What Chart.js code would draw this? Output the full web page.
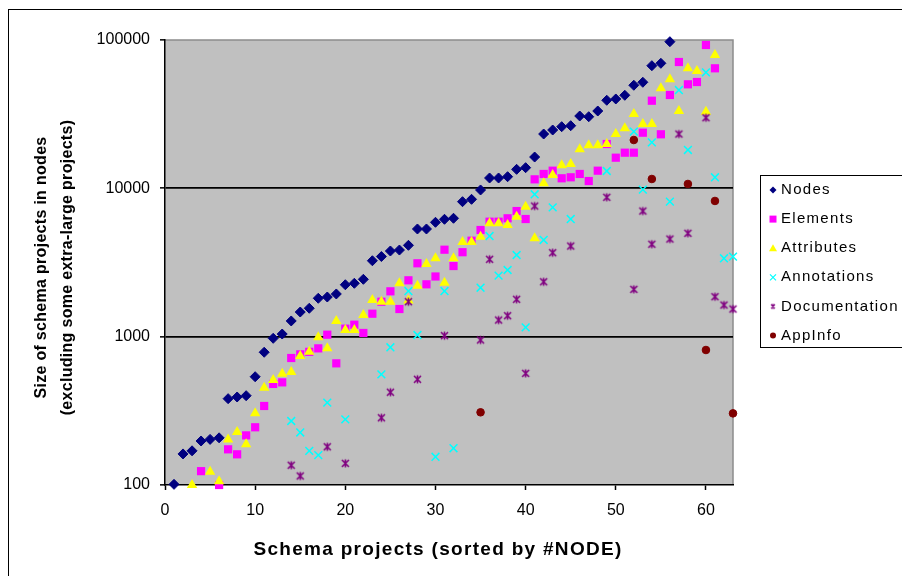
<!DOCTYPE html>
<html>
<head>
<meta charset="utf-8">
<script src="https://cdn.jsdelivr.net/npm/chart.js@4/dist/chart.umd.min.js"></script>
<style>
  html, body { margin: 0; padding: 0; background: #fff; }
  #wrap { width: 902px; height: 576px; }
</style>
</head>
<body>
<div id="wrap"><canvas id="c" width="902" height="576"></canvas></div>
<script>
// Schema projects, sorted by node count (project number = position + 1)
const nodes = [101,162,170,198,203,208,382,392,400,537,
  785,975,1042,1276,1466,1554,1815,1851,1940,2239,
  2290,2436,3250,3470,3780,3837,4130,5320,5320,5902,
  6184,6283,8128,8433,9747,11740,11740,11980,13430,13780,
  16260,23240,24730,26040,26440,30730,30400,33210,39230,40030,
  42390,49530,51880,67100,69650,97400,null,null,null,null,
  null,null,null];
const elements = [null,null,null,124,null,100,174,161,216,245,
  341,480,492,718,760,790,834,1031,661,1132,
  1204,1059,1428,1720,2022,1536,2399,3124,2254,2545,
  3857,2994,3710,4436,5236,5957,5957,6280,7030,6210,
  11500,12500,13150,11690,11870,12500,11200,13150,19900,16090,
  17390,17390,23720,38960,23140,42580,71060,50260,52100,92530,
  64450,null,null];
const attributes = [null,null,100,null,123,106,203,228,188,304,
  453,510,563,578,741,792,990,834,1276,1109,
  1109,1400,1767,1720,1720,2290,1750,2206,3090,3376,
  2312,3376,4345,4345,4720,5808,5808,5660,6440,7520,
  4600,10810,12300,14300,14580,18330,19500,19500,19900,23240,
  25400,31700,27140,27140,47250,54330,33220,64450,61800,32880,
  79230,null,null];
const annotations = [null,null,null,null,null,null,null,null,null,null,
  null,null,null,270,226,170,159,359,null,277,
  null,null,null,557,848,null,2031,1026,null,155,
  2031,177,null,null,2138,4770,2577,2815,3553,1156,
  9120,4487,7450,null,6210,null,null,null,13090,null,
  null,24100,9800,20430,null,8128,46000,18140,null,60570,
  11870,3376,3460];
const documentation = [null,null,null,null,null,null,null,null,null,null,
  null,null,null,136,115,null,null,181,null,140,
  null,null,null,284,422,null,1720,516,null,null,
  1016,null,null,null,950,3324,1295,1384,1786,566,
  7600,2344,3680,null,4083,null,null,null,8700,null,
  null,2085,7030,4198,null,4550,23240,4977,null,29940,
  1860,1634,1536];
const appInfo = [null,null,null,null,null,null,null,null,null,null,
  null,null,null,null,null,null,null,null,null,null,
  null,null,null,null,null,null,null,null,null,null,
  null,null,null,null,309,null,null,null,null,null,
  null,null,null,null,null,null,null,null,null,null,
  null,21170,null,11560,null,null,null,10700,null,813,
  8220,null,304];

const xTicks = [0, 10, 20, 30, 40, 50, 60];
const yTicks = [100, 1000, 10000, 100000];

const FONT = "'Liberation Sans', Arial, Helvetica, sans-serif";
Chart.defaults.font.family = FONT;
Chart.defaults.color = '#000';

// Excel-style "star" marker: an X with a vertical bar
function makeStar(size, color, lw) {
  const c = document.createElement('canvas');
  c.width = size; c.height = size;
  const g = c.getContext('2d');
  const m = 2, e = size - 2, mid = size / 2;
  g.strokeStyle = color; g.lineWidth = lw; g.lineCap = 'butt';
  g.beginPath();
  g.moveTo(m, m); g.lineTo(e, e);
  g.moveTo(e, m); g.lineTo(m, e);
  g.moveTo(mid, m - 0.5); g.lineTo(mid, e + 0.5);
  g.stroke();
  return c;
}
const starMarker = makeStar(11, '#800080', 1.6);
const starLegend = makeStar(8, '#800080', 1.3);

const seriesDefs = [
  { label: 'Nodes',         values: nodes,         color: '#000080', style: 'rectRot',  radius: 5,   bw: 1 },
  { label: 'Elements',      values: elements,      color: '#FF00FF', style: 'rect',     radius: 5.8, bw: 0 },
  { label: 'Attributes',    values: attributes,    color: '#FFFF00', style: 'triangle', radius: 6,   bw: 0 },
  { label: 'Annotations',   values: annotations,   color: '#00FFFF', style: 'crossRot', radius: 5.5, bw: 1.5 },
  { label: 'Documentation', values: documentation, color: '#800080', style: starMarker, radius: 5,   bw: 1 },
  { label: 'AppInfo',       values: appInfo,       color: '#800000', style: 'circle',   radius: 3.8, bw: 1 }
];

function toPoints(values) {
  const pts = [];
  values.forEach((v, i) => { if (v != null) pts.push({ x: i + 1, y: v }); });
  return pts;
}

const datasets = seriesDefs.map((s, i) => ({
  label: s.label,
  data: toPoints(s.values),
  showLine: false,
  pointStyle: s.style,
  pointRadius: s.radius,
  pointHoverRadius: s.radius,
  pointBackgroundColor: s.color,
  pointBorderColor: s.color,
  pointBorderWidth: s.bw,
  backgroundColor: s.color,
  borderColor: s.color,
  clip: false,
  order: seriesDefs.length - i
}));

// Gray plot area, outer frame
const backdrop = {
  id: 'backdrop',
  beforeDraw(chart) {
    const { ctx, chartArea: a } = chart;
    ctx.save();
    ctx.fillStyle = '#fff';
    ctx.fillRect(0, 0, chart.width, chart.height);
    ctx.strokeStyle = '#000';
    ctx.lineWidth = 1;
    ctx.strokeRect(8.5, 9.5, 1000, 1000);
    ctx.fillStyle = '#C0C0C0';
    ctx.fillRect(a.left, a.top, a.right - a.left, a.bottom - a.top);
    ctx.strokeStyle = '#8c8c8c';
    ctx.lineWidth = 1.5;
    ctx.beginPath();
    ctx.moveTo(a.left, a.top);
    ctx.lineTo(a.right, a.top);
    ctx.lineTo(a.right, a.bottom);
    ctx.stroke();
    ctx.restore();
  }
};

// Wider letter spacing and small offsets for axis titles (Excel-like text)
function spaceTitle(scale, spacing, dx, dy) {
  if (scale._titleSpaced) return;
  const orig = scale.drawTitle;
  scale.drawTitle = function () {
    const c = this.ctx;
    c.save();
    c.letterSpacing = spacing;
    c.translate(dx, dy);
    orig.apply(this, arguments);
    c.restore();
  };
  scale._titleSpaced = true;
}
const titleSpacing = {
  id: 'titleSpacing',
  afterLayout(chart) {
    spaceTitle(chart.scales.x, '1.3px', -11, 0);
    spaceTitle(chart.scales.y, '0.3px', 0, 5);
  }
};

// Boxed legend to the right of the plot
function legendMarker(ctx, def, x, y) {
  ctx.fillStyle = def.color;
  ctx.strokeStyle = def.color;
  ctx.lineWidth = 1;
  ctx.beginPath();
  if (def.style === 'rectRot') {
    ctx.moveTo(x - 3.5, y); ctx.lineTo(x, y - 3.5); ctx.lineTo(x + 3.5, y); ctx.lineTo(x, y + 3.5);
    ctx.closePath(); ctx.fill();
  } else if (def.style === 'rect') {
    ctx.rect(x - 3.5, y - 3.5, 7, 7); ctx.fill();
  } else if (def.style === 'triangle') {
    ctx.moveTo(x, y - 4); ctx.lineTo(x + 4, y + 3); ctx.lineTo(x - 4, y + 3);
    ctx.closePath(); ctx.fill();
  } else if (def.style === 'crossRot') {
    ctx.lineWidth = 1.2;
    ctx.moveTo(x - 3, y - 3); ctx.lineTo(x + 3, y + 3);
    ctx.moveTo(x + 3, y - 3); ctx.lineTo(x - 3, y + 3);
    ctx.stroke();
  } else if (def.style === 'circle') {
    ctx.arc(x, y, 3, 0, Math.PI * 2); ctx.fill();
  } else {
    ctx.drawImage(starLegend, x - 4, y - 4);
  }
}

const boxLegend = {
  id: 'boxLegend',
  afterDraw(chart) {
    const ctx = chart.ctx;
    const box = { x: 760.5, y: 175.5, w: 200, h: 172 };
    ctx.save();
    ctx.fillStyle = '#fff';
    ctx.fillRect(box.x, box.y, box.w, box.h);
    ctx.strokeStyle = '#000';
    ctx.lineWidth = 1;
    ctx.strokeRect(box.x, box.y, box.w, box.h);
    ctx.font = '15px ' + FONT;
    ctx.letterSpacing = '1.3px';
    ctx.textBaseline = 'middle';
    ctx.textAlign = 'left';
    seriesDefs.forEach((def, i) => {
      const y = 190 + i * 29.1;
      legendMarker(ctx, def, 773, y);
      ctx.fillStyle = '#000';
      ctx.fillText(def.label, 781, y);
    });
    ctx.restore();
  }
};

new Chart(document.getElementById('c'), {
  type: 'scatter',
  data: { datasets },
  plugins: [backdrop, titleSpacing, boxLegend],
  options: {
    responsive: false,
    animation: false,
    devicePixelRatio: 1,
    events: [],
    layout: { padding: { left: 0, top: 40, right: 169, bottom: 0 } },
    plugins: { legend: { display: false }, tooltip: { enabled: false } },
    scales: {
      x: {
        type: 'linear', min: 0, max: 63,
        afterBuildTicks: s => { s.ticks = xTicks.map(v => ({ value: v })); },
        afterFit: s => { s.height = 91; },
        grid: { drawOnChartArea: false, drawTicks: true, tickLength: 5, tickColor: '#000', tickWidth: 1.5 },
        border: { display: true, color: '#000', width: 1.5 },
        ticks: { padding: 11, font: { size: 16 }, color: '#000', maxRotation: 0, autoSkip: false, callback: v => String(v) },
        title: { display: true, text: 'Schema projects (sorted by #NODE)', color: '#000',
                 font: { size: 19, weight: 'bold' }, padding: { top: 0, bottom: 15 } }
      },
      y: {
        type: 'logarithmic', min: 100, max: 100000,
        afterBuildTicks: s => { s.ticks = yTicks.map(v => ({ value: v })); },
        afterFit: s => { s.width = 165; },
        grid: {
          color: c => (c.tick && (c.tick.value === 1000 || c.tick.value === 10000)) ? '#000' : 'rgba(0,0,0,0)',
          lineWidth: 1.7, drawTicks: true, tickLength: 5, tickColor: '#000', tickWidth: 1.5
        },
        border: { display: true, color: '#000', width: 1.5 },
        ticks: { padding: 10, font: { size: 16 }, color: '#000', autoSkip: false, callback: v => String(v) },
        title: { display: true, color: '#000',
                 text: ['Size of schema projects in nodes', '(excluding some extra-large projects)'],
                 font: { size: 16, weight: 'bold', lineHeight: 1.6 }, padding: { top: 29, bottom: 0 } }
      }
    }
  }
});
</script>
</body>
</html>
